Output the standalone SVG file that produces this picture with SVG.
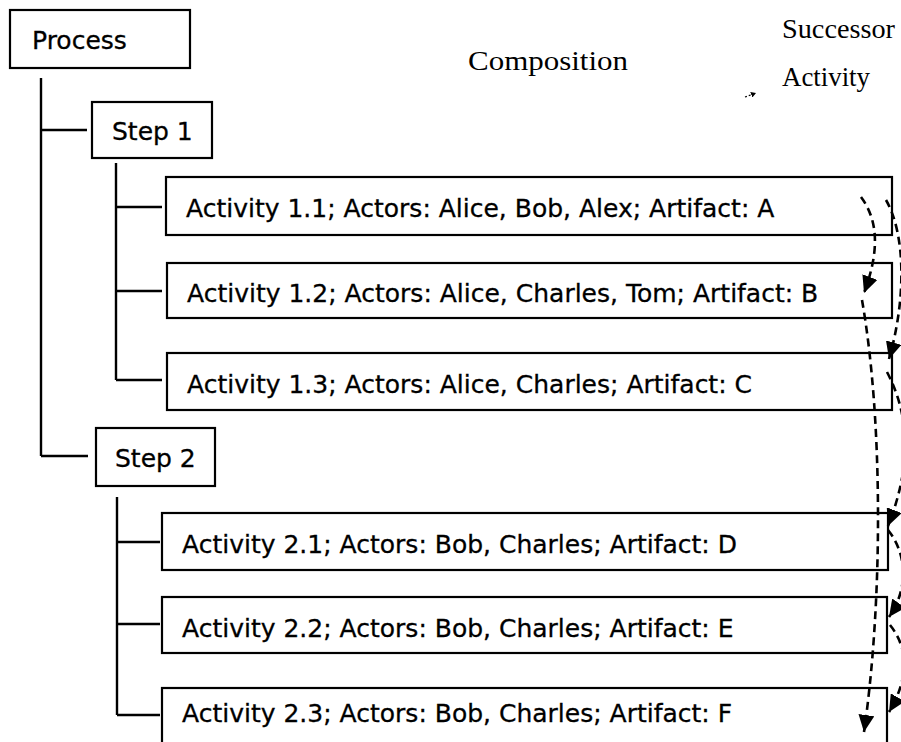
<svg xmlns="http://www.w3.org/2000/svg" width="901" height="742" viewBox="0 0 901 742">
<style>
.box{fill:#fff;stroke:#000;stroke-width:2.2}
.lbl{font-family:"DejaVu Sans",sans-serif;font-size:25px;fill:#000;stroke:#000;stroke-width:0.3}
.leg{font-family:"Liberation Serif",serif;font-size:28px;fill:#000}
.tree{fill:none;stroke:#000;stroke-width:2.4}
.succ{fill:none;stroke:#000;stroke-width:2.6;stroke-dasharray:8 5;marker-end:url(#ah)}
</style>
<defs>
<marker id="ah" markerUnits="userSpaceOnUse" markerWidth="18" markerHeight="16" refX="17" refY="8" orient="auto">
<path d="M0,0 L17,8 L0,16 z" fill="#000"/>
</marker>
<marker id="ahs" markerUnits="userSpaceOnUse" markerWidth="6" markerHeight="6" refX="5" refY="3" orient="auto">
<path d="M0,0 L5,3 L0,6 z" fill="#000"/>
</marker>
</defs>
<rect width="901" height="742" fill="#fff"/>

<g id="legend">
<text class="leg" x="782" y="38" textLength="113" lengthAdjust="spacingAndGlyphs">Successor</text>
<text class="leg" x="468" y="70" textLength="160" lengthAdjust="spacingAndGlyphs">Composition</text>
<text class="leg" x="782" y="86" textLength="88" lengthAdjust="spacingAndGlyphs">Activity</text>
<path d="M745,97 L756,93" fill="none" stroke="#000" stroke-width="1.2" stroke-dasharray="2 2" marker-end="url(#ahs)"/>
</g>

<g id="process"><rect class="box" x="10" y="10" width="180" height="58"/><text class="lbl" x="32" y="49">Process</text></g>
<g id="step1"><rect class="box" x="92" y="102" width="120" height="56"/><text class="lbl" x="112" y="140">Step 1</text></g>
<g id="step2"><rect class="box" x="96" y="428" width="119" height="58"/><text class="lbl" x="115" y="467">Step 2</text></g>

<g id="act11"><rect class="box" x="166" y="177" width="726" height="58"/><text class="lbl" x="186" y="217">Activity 1.1; Actors: Alice, Bob, Alex; Artifact: A</text></g>
<g id="act12"><rect class="box" x="167" y="263" width="725" height="55"/><text class="lbl" x="187" y="302">Activity 1.2; Actors: Alice, Charles, Tom; Artifact: B</text></g>
<g id="act13"><rect class="box" x="167" y="353" width="725" height="57"/><text class="lbl" x="187" y="393">Activity 1.3; Actors: Alice, Charles; Artifact: C</text></g>
<g id="act21"><rect class="box" x="162" y="513" width="726" height="57"/><text class="lbl" x="182" y="553">Activity 2.1; Actors: Bob, Charles; Artifact: D</text></g>
<g id="act22"><rect class="box" x="162" y="597" width="725" height="56"/><text class="lbl" x="182" y="637">Activity 2.2; Actors: Bob, Charles; Artifact: E</text></g>
<g id="act23"><rect class="box" x="162" y="688" width="725" height="72"/><text class="lbl" x="182" y="722">Activity 2.3; Actors: Bob, Charles; Artifact: F</text></g>

<g id="connectors">
<path class="tree" d="M41,78 V456 M41,130 H87 M41,456 H88"/>
<path class="tree" d="M116,163 V380 M116,207 H162 M116,291 H162 M116,380 H162"/>
<path class="tree" d="M117,497 V715 M117,542 H160 M117,624 H160 M117,715 H160"/>
<path class="succ" d="M861,197 C878,220 880,250 864,293"/>
<path class="succ" d="M886,200 C906,235 906,300 889,359"/>
<path class="succ" d="M887,372 C912,420 910,470 888,526"/>
<path class="succ" d="M888,530 C908,555 908,590 889,617"/>
<path class="succ" d="M890,625 C910,650 908,680 889,712"/>
<path class="succ" d="M862,300 C883,420 883,600 864,732"/>
</g>
</svg>
